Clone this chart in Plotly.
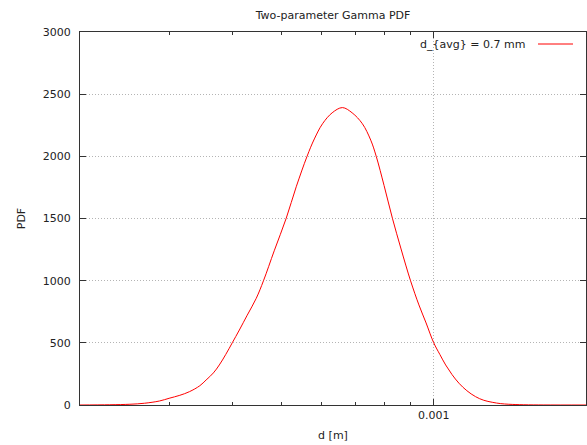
import math
import plotly.graph_objects as go

# Droplet diameter d [m] and the Gamma probability density sampled along the curve
d_m = [0.0002, 0.000229, 0.000251, 0.000268, 0.000287, 0.0003, 0.000315, 0.000329,
       0.000345, 0.000355, 0.000367, 0.000377, 0.000388, 0.0004, 0.000413, 0.000428,
       0.000446, 0.000461, 0.000484, 0.000511, 0.000535, 0.000562, 0.000581, 0.000603,
       0.00063, 0.00066, 0.00069, 0.000723, 0.000751, 0.00077, 0.000798, 0.000829,
       0.000862, 0.0009, 0.000935, 0.000966, 0.001, 0.001029, 0.001056, 0.001087,
       0.001122, 0.001163, 0.00121, 0.001256, 0.001305, 0.001357, 0.001408, 0.001507,
       0.001651, 0.002]
pdf = [0, 2, 6, 14, 32, 54, 78, 107,
       155, 201, 258, 322, 405, 501, 603, 722,
       858, 1000, 1240, 1500, 1755, 2000, 2140, 2262,
       2350, 2392, 2350, 2262, 2130, 2000, 1765, 1500,
       1255, 1000, 805, 660, 501, 405, 322, 245,
       175, 115, 67, 38, 22, 11, 6, 2,
       0.5, 0]

series_name = "d_{avg} = 0.7 mm"
x_range = [0.0002, 0.002]
y_range = [0, 3000]
x_major_ticks = [0.001]
x_major_labels = ["0.001"]
x_minor_ticks = [0.0003, 0.0004, 0.0005, 0.0006, 0.0007, 0.0008, 0.0009, 0.002]

FONT = "DejaVu Sans"
GRID = dict(showgrid=True, gridcolor="#b4b4b4", griddash="1px,2px", gridwidth=1)
log_range = [math.log10(v) for v in x_range]

fig = go.Figure()
fig.add_trace(go.Scatter(
    x=d_m, y=pdf, mode="lines", name=series_name,
    line=dict(color="#ff0000", width=1, shape="spline", smoothing=1.0),
    showlegend=False,
))
# helper trace so the minor-tick axis is laid out
fig.add_trace(go.Scatter(x=[x_range[0]], y=[0], xaxis="x2", mode="markers",
                         marker=dict(opacity=0), showlegend=False, hoverinfo="skip"))

fig.update_layout(
    width=587, height=445,
    margin=dict(l=80, r=1, t=32, b=40),
    paper_bgcolor="white", plot_bgcolor="white",
    font=dict(family=FONT, size=11, color="#222222"),
    title=dict(text="Two-parameter Gamma PDF", x=0.5, xref="paper",
               y=1 - 15 / 445, yref="container", yanchor="middle",
               font=dict(family=FONT, size=11, color="#222222")),
    xaxis=dict(
        type="log", range=log_range,
        tickvals=x_major_ticks, ticktext=x_major_labels,
        ticks="inside", ticklen=6, tickcolor="#333333",
        showline=True, linecolor="#333333", linewidth=1, mirror="ticks",
        zeroline=False, **GRID,
        title=dict(text="d [m]", standoff=10, font=dict(family=FONT, size=11)),
    ),
    xaxis2=dict(
        type="log", range=log_range, overlaying="x", side="bottom",
        tickvals=x_minor_ticks, showticklabels=False,
        ticks="inside", ticklen=3, tickcolor="#333333",
        showline=False, mirror="ticks", showgrid=False, zeroline=False,
    ),
    yaxis=dict(
        range=y_range, dtick=500, tick0=0,
        ticks="inside", ticklen=6, tickcolor="#333333",
        showline=True, linecolor="#333333", linewidth=1, mirror="ticks",
        zeroline=False, ticklabelstandoff=6, **GRID,
        title=dict(text="PDF", standoff=14, font=dict(family=FONT, size=11)),
    ),
)

# gnuplot-style key: label on the left, line sample on the right
fig.add_annotation(text=series_name, xref="paper", yref="paper",
                   x=(527 - 80) / 506, y=(405 - 44) / 373,
                   xanchor="right", yanchor="middle", showarrow=False,
                   font=dict(family=FONT, size=11, color="#222222"))
fig.add_shape(type="line", xref="paper", yref="paper",
              x0=(538 - 80) / 506, x1=(573 - 80) / 506,
              y0=(405 - 44) / 373, y1=(405 - 44) / 373,
              line=dict(color="#ff0000", width=1))

fig.write_html("out.html")
